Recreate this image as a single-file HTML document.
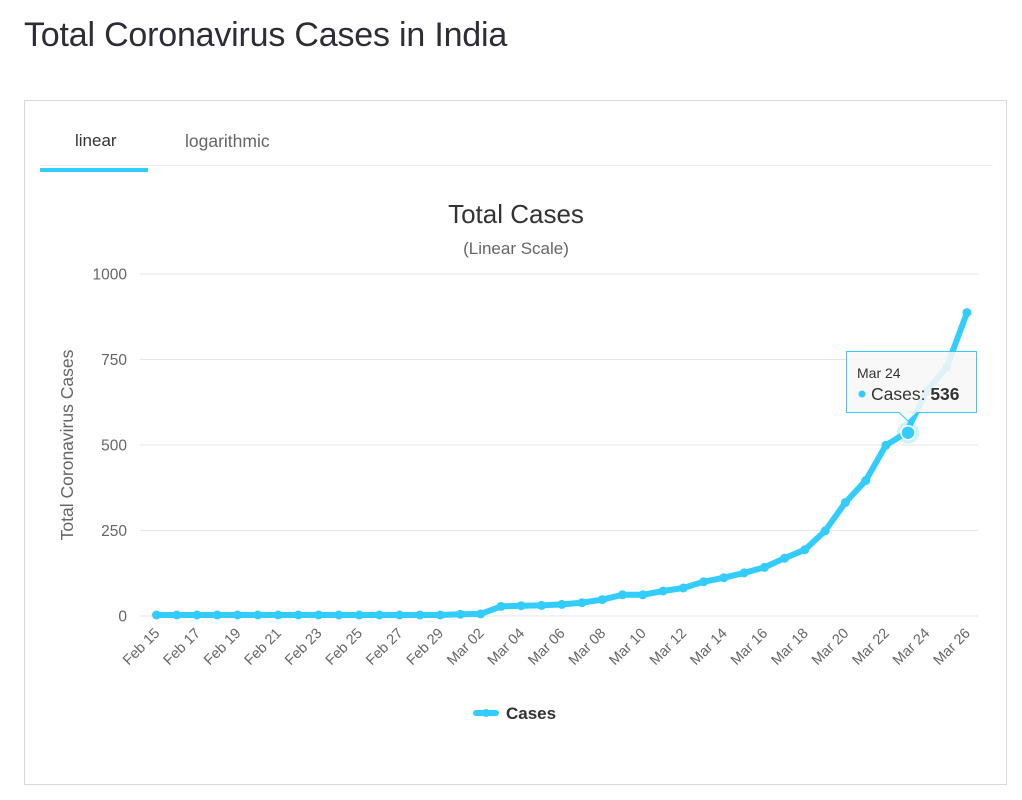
<!DOCTYPE html>
<html><head><meta charset="utf-8">
<style>
html,body{margin:0;padding:0;background:#fff;width:1022px;height:800px;overflow:hidden;font-family:"Liberation Sans",sans-serif;}
h1{position:absolute;left:24px;top:16px;margin:0;font-weight:400;font-size:34px;color:#2d2d38;letter-spacing:-0.2px}
.panel{position:absolute;left:24px;top:100px;width:983px;height:685px;border:1px solid #d9d9d9;box-sizing:border-box}
.tabs{position:absolute;left:15px;top:64px;width:953px;height:1px;background:#eee}
.t1{position:absolute;left:50px;top:30px;font-size:17px;color:#333}
.t2{position:absolute;left:160px;top:30px;font-size:17.5px;color:#666}
.ul{position:absolute;left:15px;top:67px;width:108px;height:4px;background:#33ccff}
svg{position:absolute;left:0;top:0}
</style></head><body>
<h1>Total Coronavirus Cases in India</h1>
<div class="panel"><div class="tabs"></div><div class="t1">linear</div><div class="t2">logarithmic</div><div class="ul"></div></div>
<svg id="s" width="1022" height="800" xmlns="http://www.w3.org/2000/svg" font-family="Liberation Sans, DejaVu Sans, sans-serif">
<text x="516" y="223" text-anchor="middle" font-size="26" fill="#333">Total Cases</text>
<text x="516" y="254" text-anchor="middle" font-size="17" fill="#666">(Linear Scale)</text>
<text transform="translate(73,445) rotate(-90)" text-anchor="middle" font-size="17.5" fill="#666">Total Coronavirus Cases</text>
<g id="grid"></g>
<g id="xl"></g>
<path id="line" fill="none" stroke="#33ccff" stroke-width="6" stroke-linejoin="round" stroke-linecap="round"/>
<g id="pts" fill="#33ccff"></g>
<circle cx="908" cy="432.7" r="11" fill="#33ccff" opacity="0.25"/>
<circle cx="908" cy="432.7" r="7" fill="#33ccff" stroke="#fff" stroke-width="1.5"/>
<g>
<path d="M846.5 351.5 H976.5 V412.5 H917 L908 421 L899 412.5 H846.5 Z" fill="#f7f7f7" fill-opacity="0.88" stroke="#33ccff" stroke-width="1"/>
<text x="857" y="378" font-size="14" fill="#333">Mar 24</text>
<circle cx="862" cy="394" r="3.5" fill="#33ccff"/>
<text x="871" y="400" font-size="17.5" fill="#333">Cases: <tspan font-weight="bold">536</tspan></text>
</g>
<line x1="476" y1="713" x2="496" y2="713" stroke="#33ccff" stroke-width="6" stroke-linecap="round"/>
<circle cx="486" cy="713" r="4" fill="#33ccff"/>
<text x="506" y="719" font-size="17" font-weight="bold" fill="#333">Cases</text>
</svg>
<script>
var data=[3,3,3,3,3,3,3,3,3,3,3,3,3,3,3,5,6,28,30,31,34,39,48,62,62,73,82,100,112,126,142,169,194,249,332,396,499,536,657,727,887];
var x0=156.5,dx=(967-156.5)/40,y0=616,k=0.342;
function X(i){return x0+i*dx}function Y(v){return y0-v*k}
var s='';
[0,250,500,750,1000].forEach(function(v){var y=Y(v);
s+='<line x1="140" x2="978" y1="'+y+'" y2="'+y+'" stroke="#e6e6e6" stroke-width="1"/>';
s+='<text x="127" y="'+(y+5.5)+'" text-anchor="end" font-size="15.5" fill="#666">'+v+'</text>';});
document.getElementById('grid').innerHTML=s;
var labs=['Feb 15','Feb 17','Feb 19','Feb 21','Feb 23','Feb 25','Feb 27','Feb 29','Mar 02','Mar 04','Mar 06','Mar 08','Mar 10','Mar 12','Mar 14','Mar 16','Mar 18','Mar 20','Mar 22','Mar 24','Mar 26'];
s='';labs.forEach(function(l,j){var x=X(j*2)+4;s+='<text transform="translate('+x+',634) rotate(-45)" text-anchor="end" font-size="14.5" fill="#666">'+l+'</text>';});
document.getElementById('xl').innerHTML=s;
var d='';s='';data.forEach(function(v,i){d+=(i?'L':'M')+X(i).toFixed(1)+' '+Y(v).toFixed(1);s+='<circle cx="'+X(i).toFixed(1)+'" cy="'+Y(v).toFixed(1)+'" r="4.5"/>';});
document.getElementById('line').setAttribute('d',d);
document.getElementById('pts').innerHTML=s;
</script>
</body></html>
